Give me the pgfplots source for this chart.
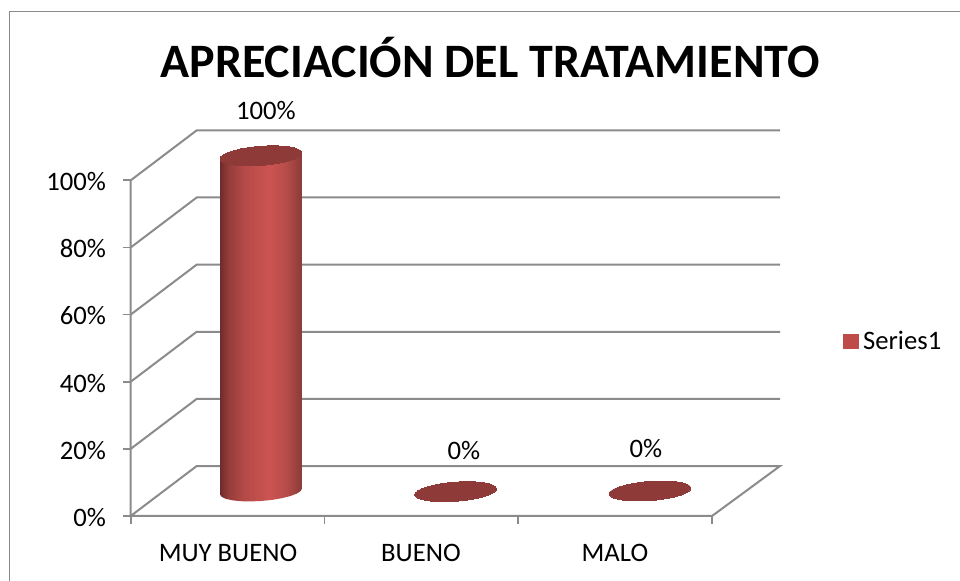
\documentclass[border=0pt]{standalone}
\usepackage{pgfplots}
\pgfplotsset{compat=1.18}
\usepackage{fontspec}
\setmainfont{Carlito}
\definecolor{gridg}{HTML}{8B8B8B}
\definecolor{frameg}{HTML}{8A8A8A}
\definecolor{cyltop}{HTML}{8E3A38}
\definecolor{legred}{HTML}{BE4B48}
\pgfdeclarehorizontalshading{cyl}{100bp}{
 rgb(0bp)=(.43,.17,.17);
 rgb(25bp)=(.43,.17,.17);
 rgb(30bp)=(.58,.24,.23);
 rgb(40bp)=(.71,.29,.28);
 rgb(55bp)=(.80,.33,.32);
 rgb(65bp)=(.72,.30,.29);
 rgb(75bp)=(.54,.23,.22);
 rgb(100bp)=(.54,.23,.22)}
\begin{document}
\begin{tikzpicture}[x=1pt,y=1pt]
\path[use as bounding box] (0,0) rectangle (720,435.75);
\draw[frameg,line width=1.1pt] (7.2,0) -- (7.2,427.1) -- (720,427.1);
\node[font=\fontsize{36}{40}\selectfont\bfseries,anchor=center] at (367.5,392.5) {APRECIACIÓN DEL TRATAMIENTO};
\begin{axis}[
  at={(98.025pt,48.75pt)},anchor=south west,
  scale only axis,width=487pt,height=289.5pt,
  xmin=0,xmax=3.351,ymin=0,ymax=115,
  clip=false,
  axis line style={draw=none},
  tick align=outside,tick pos=left,
  tick style={gridg,line width=1.3pt},
  major tick length=6pt,
  ytick={0,20,40,60,80,100},
  yticklabels={0\%,20\%,40\%,60\%,80\%,100\%},
  y tick label style={xshift=-9pt,yshift=-1pt},
  xtick={0,1,2,3},
  xticklabels={},
  extra x ticks={0.502,1.498,2.499},
  extra x tick labels={MUY BUENO,BUENO,MALO},
  extra x tick style={major tick length=0pt,tick label style={yshift=-17.5pt}},
  tick label style={font=\fontsize{20}{22}\selectfont},
  legend style={draw=none,fill=none,at={(1.097,0.453)},anchor=west,
    font=\fontsize{20}{22}\selectfont,inner sep=0pt,column sep=1.5pt},
]
% side wall and back wall grid lines
\addplot[gridg,line width=1.5pt,forget plot] coordinates {(0,100) (0,0) (3,0) (3.351,14.89) (0.3406,14.89) (0,0)};
\addplot[gridg,line width=1.5pt,forget plot] coordinates {(0,20) (0.3406,34.89) (3.351,34.89)};
\addplot[gridg,line width=1.5pt,forget plot] coordinates {(0,40) (0.3406,54.89) (3.351,54.89)};
\addplot[gridg,line width=1.5pt,forget plot] coordinates {(0,60) (0.3406,74.89) (3.351,74.89)};
\addplot[gridg,line width=1.5pt,forget plot] coordinates {(0,80) (0.3406,94.89) (3.351,94.89)};
\addplot[gridg,line width=1.5pt,forget plot] coordinates {(0,100) (0.3406,114.89) (3.351,114.89)};
% cylinder body (value 100, floor offset 7.3)
\addplot[forget plot,draw=none,shade,shading=cyl,shading angle=0] coordinates {
 (0.4614,106.38) (0.4614,6.38) (0.4697,5.69) (0.4919,5.10) (0.5259,4.66) (0.5703,4.40)
 (0.6214,4.34) (0.6762,4.48) (0.7308,4.81) (0.7814,5.32) (0.8242,5.95) (0.8573,6.68)
 (0.8774,7.45) (0.8836,8.22) (0.8836,108.22) (0.4614,106.38)};
\addlegendimage{legend image code/.code={\fill[legred] (0pt,-5.5pt) rectangle (11pt,5.5pt);}}
\addlegendentry{Series1}
% top faces of the three cylinders
\addplot[forget plot,only marks,mark=*,mark size=30.8pt,
  mark options={draw=cyltop,fill=cyltop,line width=0pt,rotate=4.3,yscale=0.232}] coordinates {(0.6725,107.3) (1.677,7.24) (2.680,7.45)};
% data labels
\addplot[forget plot,only marks,mark=none,nodes near coords,point meta=explicit symbolic,
  every node near coord/.style={anchor=center,font=\fontsize{20}{22}\selectfont,inner sep=0pt}]
  coordinates {(0.698,120.9)[100\%] (1.720,19.4)[0\%] (2.659,20.0)[0\%]};
\end{axis}
\end{tikzpicture}
\end{document}
